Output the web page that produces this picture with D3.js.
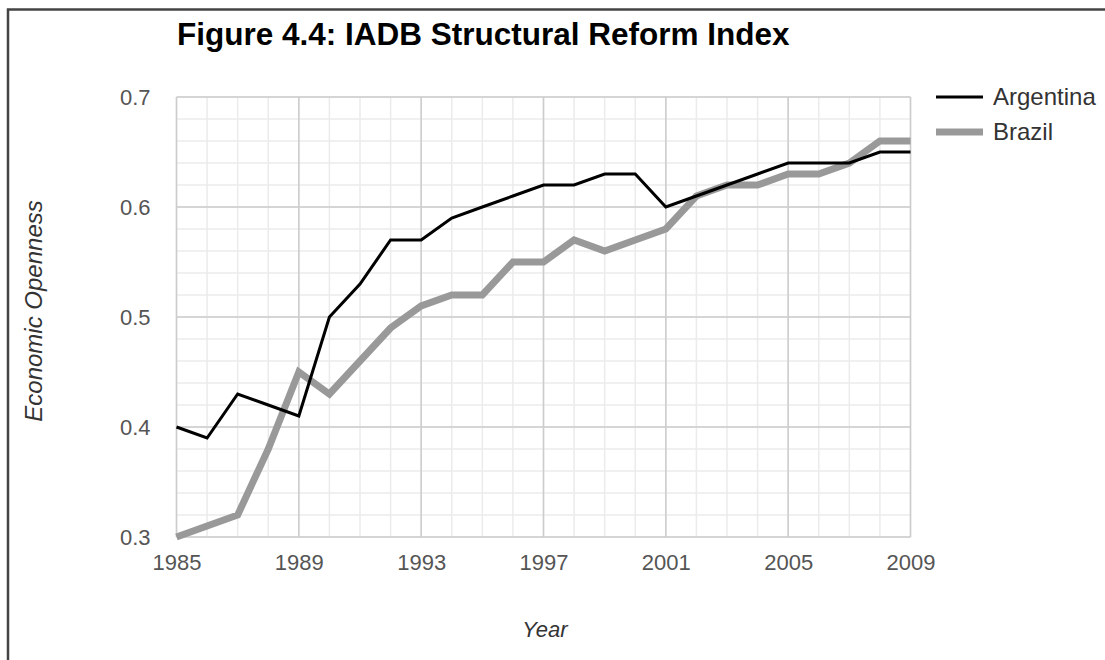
<!DOCTYPE html>
<html>
<head>
<meta charset="utf-8">
<script src="https://cdn.jsdelivr.net/npm/d3@7"></script>
<style>
  html, body { margin: 0; padding: 0; background: #fff; }
  svg { display: block; }
  text { font-family: "Liberation Sans", Arial, sans-serif; }
</style>
</head>
<body>
<svg id="chart" width="1105" height="660"></svg>
<script>
const years = [1985,1986,1987,1988,1989,1990,1991,1992,1993,1994,1995,1996,1997,1998,1999,2000,2001,2002,2003,2004,2005,2006,2007,2008,2009];
const argentina = [0.40,0.39,0.43,0.42,0.41,0.50,0.53,0.57,0.57,0.59,0.60,0.61,0.62,0.62,0.63,0.63,0.60,0.61,0.62,0.63,0.64,0.64,0.64,0.65,0.65];
const brazil    = [0.30,0.31,0.32,0.38,0.45,0.43,0.46,0.49,0.51,0.52,0.52,0.55,0.55,0.57,0.56,0.57,0.58,0.61,0.62,0.62,0.63,0.63,0.64,0.66,0.66];
const xTicks = [1985,1989,1993,1997,2001,2005,2009];
const yTicks = [0.3,0.4,0.5,0.6,0.7];
const seriesNames = ["Argentina","Brazil"];
const titleText = "Figure 4.4: IADB Structural Reform Index";
const xTitle = "Year";
const yTitle = "Economic Openness";

const svg = d3.select("#chart");
const W = 1105, H = 660;

// frame
svg.append("rect").attr("x", 8).attr("y", 9.5).attr("width", W + 10).attr("height", H + 10)
  .attr("fill", "none").attr("stroke", "#444").attr("stroke-width", 2.5);

const x = d3.scaleLinear().domain([1985, 2009]).range([176.5, 910.5]);
const y = d3.scaleLinear().domain([0.3, 0.7]).range([537, 97]);

const g = svg.append("g");

// minor grid
const minorX = d3.range(1985, 2010, 1);
const minorY = d3.range(0.30, 0.7001, 0.02);
g.selectAll("line.mx").data(minorX).enter().append("line")
  .attr("x1", d => x(d)).attr("x2", d => x(d)).attr("y1", y(0.3)).attr("y2", y(0.7))
  .attr("stroke", "#ebebeb").attr("stroke-width", 1.5);
g.selectAll("line.my").data(minorY).enter().append("line")
  .attr("y1", d => y(d)).attr("y2", d => y(d)).attr("x1", x(1985)).attr("x2", x(2009))
  .attr("stroke", "#ebebeb").attr("stroke-width", 1.5);
// major grid
g.selectAll("line.Mx").data(xTicks).enter().append("line")
  .attr("x1", d => x(d)).attr("x2", d => x(d)).attr("y1", y(0.3)).attr("y2", y(0.7))
  .attr("stroke", "#cccccc").attr("stroke-width", 1.5);
g.selectAll("line.My").data(yTicks).enter().append("line")
  .attr("y1", d => y(d)).attr("y2", d => y(d)).attr("x1", x(1985)).attr("x2", x(2009))
  .attr("stroke", "#cccccc").attr("stroke-width", 1.5);

// axes via d3 axis
const xAxis = d3.axisBottom(x).tickValues(xTicks).tickFormat(d3.format("d")).tickSize(0).tickPadding(17);
const yAxis = d3.axisLeft(y).tickValues(yTicks).tickFormat(d3.format(".1f")).tickSize(0).tickPadding(26);
const gx = svg.append("g").attr("transform", `translate(0,${y(0.3)})`).call(xAxis);
const gy = svg.append("g").attr("transform", `translate(${x(1985)},0)`).call(yAxis);
[gx, gy].forEach(a => {
  a.select(".domain").remove();
  a.selectAll("text").attr("font-size", 22).attr("fill", "#555")
   .attr("font-family", '"Liberation Sans", Arial, sans-serif');
});

// lines
const line = d3.line().x((d, i) => x(years[i])).y(d => y(d));
svg.append("path").datum(brazil).attr("d", line).attr("fill", "none")
  .attr("stroke", "#999999").attr("stroke-width", 7).attr("stroke-linejoin", "miter");
svg.append("path").datum(argentina).attr("d", line).attr("fill", "none")
  .attr("stroke", "#000000").attr("stroke-width", 3).attr("stroke-linejoin", "miter");

// title
svg.append("text").attr("x", 177).attr("y", 45).attr("font-size", 31.5).attr("font-weight", "bold")
  .attr("fill", "#000").text(titleText);

// axis titles
svg.append("text").attr("x", 545).attr("y", 637).attr("text-anchor", "middle")
  .attr("font-size", 22).attr("font-style", "italic").attr("fill", "#333").text(xTitle);
svg.append("text").attr("transform", "translate(42,311) rotate(-90)").attr("text-anchor", "middle")
  .attr("font-size", 24).attr("font-style", "italic").attr("fill", "#333").text(yTitle);

// legend
const legendColors = ["#000000", "#999999"];
const legendWidths = [3, 7];
const lg = svg.append("g");
seriesNames.forEach((name, i) => {
  const ly = 97 + i * 35;
  lg.append("line").attr("x1", 936).attr("x2", 983).attr("y1", ly).attr("y2", ly)
    .attr("stroke", legendColors[i]).attr("stroke-width", legendWidths[i]);
  lg.append("text").attr("x", 993).attr("y", ly).attr("dy", "0.35em")
    .attr("font-size", 24).attr("fill", "#333").text(name);
});
</script>
</body>
</html>
